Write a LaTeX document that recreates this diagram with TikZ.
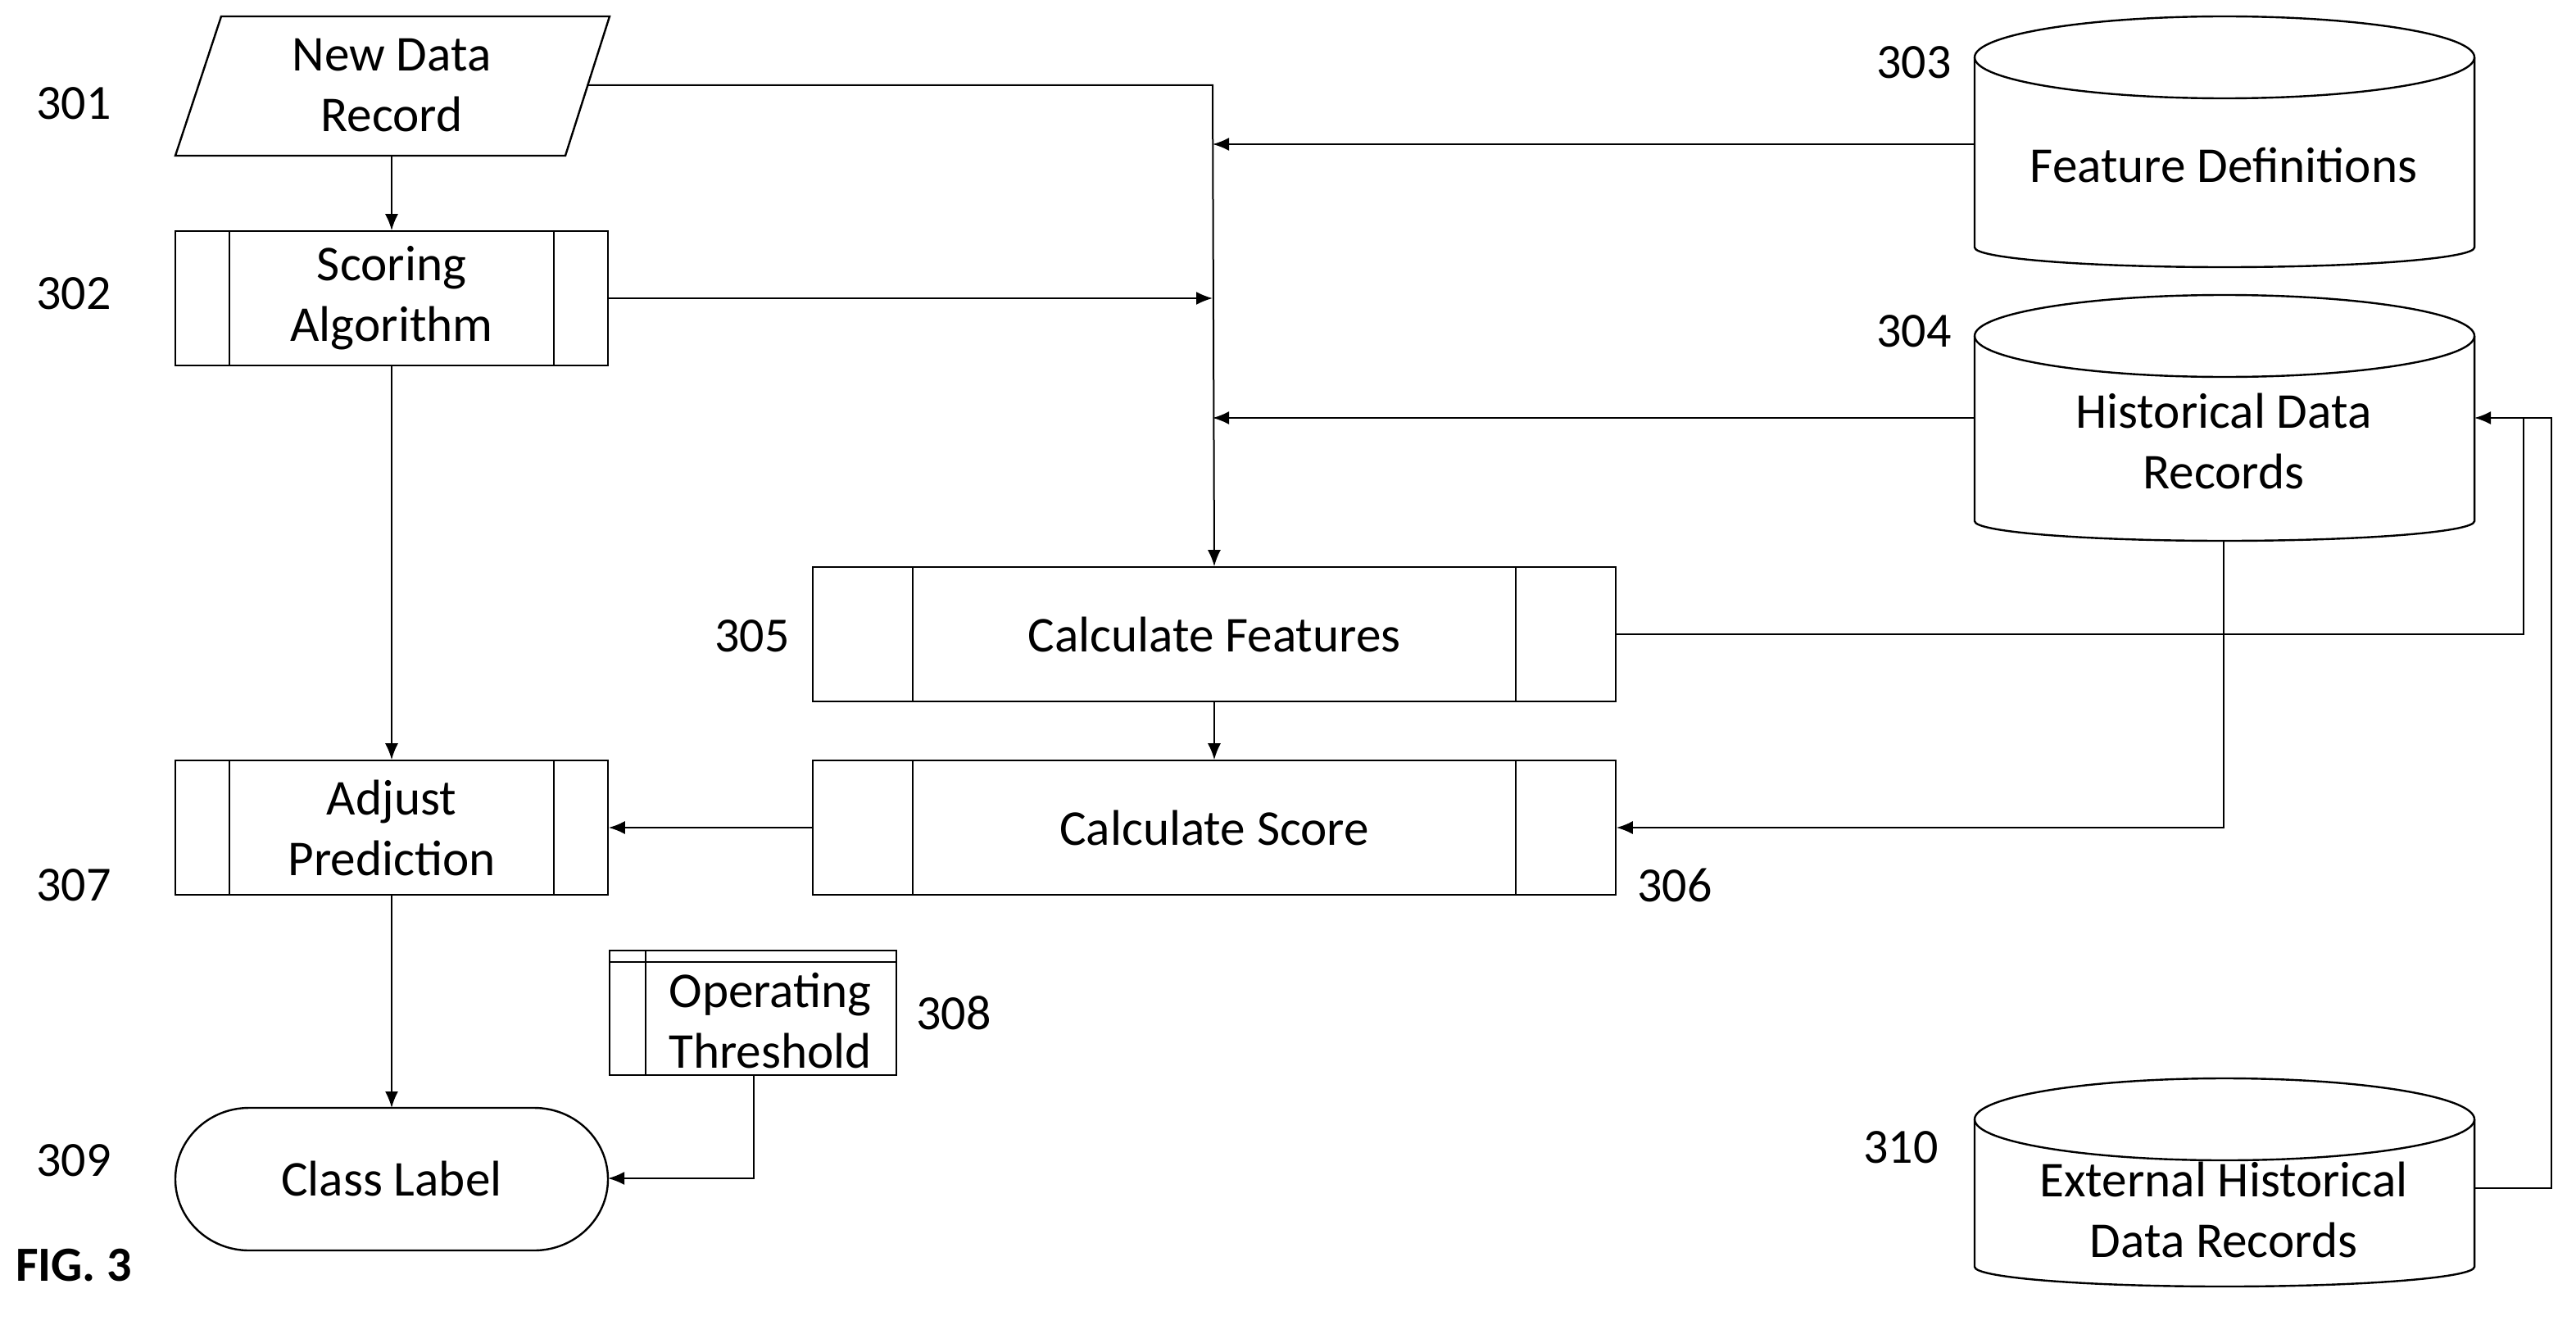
\documentclass[tikz,border=0pt]{standalone}
\usepackage{fontspec}
\setmainfont{Carlito}
\usetikzlibrary{shapes.geometric,arrows.meta,fit}
\begin{document}
\begin{tikzpicture}[x=0.5pt,y=-0.5pt,
  every node/.style={font=\fontsize{15.3}{18.5}\selectfont,align=center,inner sep=0pt},
  ln/.style={draw,line width=0.6pt},
  arr/.style={draw,line width=0.5pt,-{Latex[length=5pt,width=4pt]}},
  lbl/.style={font=\fontsize{15}{16}\selectfont}]
\useasboundingbox (0,0) rectangle (1572,808);
% 301 parallelogram
\draw[ln] (135,10) -- (372,10) -- (345,95) -- (107,95) -- cycle;
\node (n301) at (239,52) {New Data\\Record};
\coordinate (n301s) at (239,95);
\coordinate (n301e) at (358,52);
% process boxes
\newcommand{\pbox}[6]{% name x1 y1 x2 y2 inset
  \draw[ln] (#2,#3) rectangle (#4,#5);
  \draw[ln] (#2+#6,#3) -- (#2+#6,#5) (#4-#6,#3) -- (#4-#6,#5);
  \node[fit={(#2,#3) (#4,#5)},inner sep=0pt] (#1) {};}
\pbox{n302}{107}{141}{371}{223}{33}
\node at (n302) {Scoring\\Algorithm};
\pbox{n305}{496}{346}{986}{428}{61}
\node at (n305) {Calculate Features};
\pbox{n306}{496}{464}{986}{546}{61}
\node at (n306) {Calculate Score};
\pbox{n307}{107}{464}{371}{546}{33}
\node at (n307) {Adjust\\Prediction};
% 308
\draw[ln] (372,580) rectangle (547,656);
\draw[ln] (372,587) -- (547,587) (394,580) -- (394,656);
\node (n308) at (470,623) {Operating\\Threshold};
\coordinate (n308s) at (460,656);
% 309 stadium
\draw[ln] (152,676) -- (326,676) arc[start angle=90,end angle=-90,x radius=45,y radius=-43.5] -- (152,763) arc[start angle=270,end angle=90,x radius=45,y radius=-43.5];
\node (n309) at (239,719) {Class Label};
% cylinders
\newcommand{\cyl}[3]{% y1 y2 name
  \draw[ln] (1205,#1+25) -- (1205,#2-12) arc[start angle=180,end angle=360,x radius=152.5,y radius=-12] -- (1510,#1+25);
  \draw[ln] (1357.5,#1+25) ellipse[x radius=152.5,y radius=25];
  \coordinate (#3) at (1357.5,{(#1+#2)/2});}
\cyl{10}{163}{n303}
\node at (1357,101) {Feature Definitions};
\cyl{180}{330}{n304}
\node at (1357,269) {Historical Data\\Records};
\cyl{658}{785}{n310}
\node at (1357,738) {External Historical\\Data Records};
% labels
\node[lbl] at (45,63) {301};
\node[lbl] at (45,179) {302};
\node[lbl] at (1168,38) {303};
\node[lbl] at (1168,202) {304};
\node[lbl] at (459,388) {305};
\node[lbl] at (1022,540) {306};
\node[lbl] at (45,540) {307};
\node[lbl] at (582,618) {308};
\node[lbl] at (45,708) {309};
\node[lbl] at (1160,700) {310};
\node[lbl,font=\fontsize{15}{16}\selectfont\bfseries] at (45,772) {FIG. 3};
% connectors
\coordinate (j1) at (740,52);
\draw[arr] (n301e) -- (j1) -- (n305.north);
\draw[arr] (1205,88) -- (740,88);
\draw[arr] (n302.east) -- (740,182);
\draw[arr] (1205,255) -- (740,255);
\draw[arr] (n301s) -- (n302.north);
\draw[arr] (n302.south) -- (n307.north);
\draw[arr] (n305.south) -- (n306.north);
\draw[arr] (n306.west) -- (n307.east);
\draw[arr] (n307.south) -- (239,676);
\draw[arr] (n308s) -- (460,719) -- (371,719);
\draw[arr] (1357,330) -- (1357,505) -- (n306.east);
\draw[line width=0.5pt] (n305.east) -- (1540,387) -- (1540,255);
\draw[arr] (1510,725) -- (1557,725) -- (1557,255) -- (1510,255);
\end{tikzpicture}
\end{document}
